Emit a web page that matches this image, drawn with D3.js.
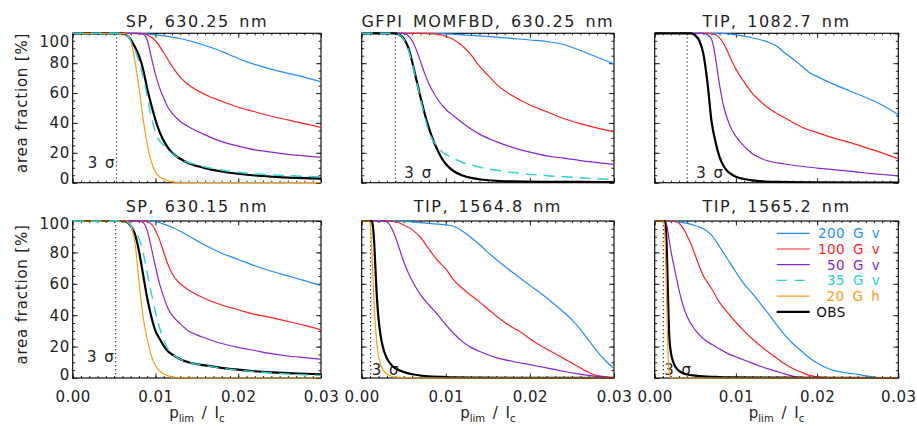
<!DOCTYPE html>
<html>
<head>
<meta charset="utf-8">
<script src="https://cdn.jsdelivr.net/npm/d3@7"></script>
<style>
  body { margin: 0; background: #fff; }
  svg text { font-family: "DejaVu Sans", sans-serif; fill: #222; }
</style>
</head>
<body>
<div id="chart"></div>
<script>
// x values are p_lim / I_c in units of 1e-3, y values are area fraction in %
const titles = ["SP, 630.25 nm", "GFPI MOMFBD, 630.25 nm", "TIP, 1082.7 nm",
                "SP, 630.15 nm", "TIP, 1564.8 nm", "TIP, 1565.2 nm"];
const sigmaLimits = [5.3, 4.0, 4.0, 5.2, 1.07, 1.06];
const xTicks = [0, 0.01, 0.02, 0.03];
const xTickLabels = ["0.00", "0.01", "0.02", "0.03"];
const yTicks = [0, 20, 40, 60, 80, 100];
const seriesNames = ["200 G v", "100 G v", "50 G v", "35 G v", "20 G h", "OBS"];

// SP 630.25 nm
const sp63025_200 = [[0,100],[7,100],[10,99],[13,96.5],[15,93.5],[17,90],[19,85.5],[21,81],[23,77.5],[25,74.5],[27,72],[30,67.5]];
const sp63025_100 = [[0,100],[8,100],[9,99],[10,95],[11,87],[12,78],[13,70.5],[14,65.5],[16,59],[18,54.5],[20,50.5],[22,47.5],[24,44.5],[26,42],[28,39.5],[30,37]];
const sp63025_50  = [[0,100],[7.5,100],[8.5,99.5],[9,95.5],[9.5,84],[10,72.5],[10.5,63.5],[11,56.5],[11.5,50.5],[12,46.5],[13,41],[14,37.5],[16,32],[18,27.5],[20,24.5],[22,22],[24,20.5],[26,19],[28,18],[30,17]];
const sp63025_35  = [[0,100],[6,100],[6.5,99],[7,95],[7.5,89],[8,81],[8.5,71],[9,58],[9.5,44],[10,34],[10.5,28],[11,25],[11.5,22],[12,19.5],[13,16],[14,13.5],[15,12],[16,10.5],[18,8.5],[20,7],[22,6],[24,5.2],[26,4.7],[28,4.3],[30,4]];
const sp63025_20  = [[0,100],[6,100],[6.5,99.5],[7,95],[7.5,82],[8,64],[8.5,43],[9,26],[9.5,14],[10,7],[10.5,4],[11,2.5],[11.5,1.3],[12,0.5],[13,0],[30,0]];
const sp63025_obs = [[0,100],[6,100],[6.5,99],[7,96],[7.5,91],[8,85],[8.5,76],[9,63],[9.5,52],[10,42],[10.5,34],[11,28],[11.5,23.5],[12,20],[13,16],[14,13],[15,11.2],[16,9.8],[18,7.5],[20,6],[22,4.8],[24,4],[26,3.4],[28,3],[30,2.7]];

// GFPI MOMFBD 630.25 nm
const gfpi_200 = [[0,100],[8,100],[12,99],[16,97.5],[20,95.5],[22,94.5],[24,92.5],[26,88.5],[28,84],[30,79.5]];
const gfpi_100 = [[0,100],[7,100],[9,99.5],[10,98],[11,95.5],[12,91.5],[13,85.5],[14,78],[15,72],[16,66],[17,61.5],[18,58],[20,52],[22,47.5],[24,43],[26,39.5],[28,36.5],[30,34]];
const gfpi_50  = [[0,100],[5,100],[5.5,98.5],[6,95],[6.5,89],[7,81],[7.5,73],[8,66],[9,56],[10,49],[11,44.5],[12,40],[13,36],[14,32.5],[16,27.5],[18,23.5],[20,20.5],[22,18],[24,16.5],[26,14.8],[28,13.5],[30,12.3]];
const gfpi_35  = [[0,100],[4,100],[4.5,99],[5,96],[5.5,90],[6,80],[6.5,68],[7,56],[7.5,44],[8,34],[8.5,28],[9,24.5],[9.5,21],[10,19],[11,16],[12,13.5],[13,12],[14,10.5],[16,8.3],[18,6.8],[20,5.6],[22,4.7],[24,4],[26,3.3],[28,2.7],[30,2.2]];
const gfpi_obs = [[0,100],[4,100],[4.5,99],[5,96.5],[5.5,91],[6,81],[6.5,69],[7,57],[7.5,46],[8,36.5],[8.5,28.5],[9,22],[9.5,16.5],[10,12.5],[11,7.5],[12,4.8],[13,3.2],[14,2.3],[16,1.3],[18,0.9],[22,0.6],[26,0.5],[30,0.4]];

// TIP 1082.7 nm
const tip10827_200 = [[0,100],[8,100],[10,99],[12,97],[14,94],[15,91.5],[16,87],[17,83],[18,78.5],[19,74],[20,71],[22,66],[24,61.5],[26,57],[28,52],[30,45.5]];
const tip10827_100 = [[0,100],[6.5,100],[7.5,99],[8,97],[8.5,93],[9,87.5],[9.5,81.5],[10,76],[11,67.5],[12,60],[13,54.5],[14,50],[16,43.5],[18,37.5],[20,33.5],[22,30],[24,27],[26,23.5],[28,20],[30,16]];
const tip10827_50  = [[0,100],[6,100],[6.5,99],[7,96],[7.25,91],[7.5,83],[8,65],[8.5,51],[9,42],[9.5,35.5],[10,31],[11,24.5],[12,19.5],[13,16.5],[14,14.5],[16,12.5],[18,11],[20,9.8],[22,8.7],[24,7.7],[26,6.5],[28,5.5],[30,4.5]];
const tip10827_obs = [[0,100],[4.5,100],[5,98.5],[5.5,95],[6,86],[6.5,67],[7,41],[7.5,27],[8,17],[8.5,11],[9,7.5],[9.5,5.5],[10,4],[11,2.5],[12,1.5],[13,1],[15,0.5],[20,0.2],[30,0]];

// SP 630.15 nm
const sp63015_200 = [[0,100],[9,100],[10,99.5],[11,98],[12,96],[13,93.5],[14,90.5],[15,87.5],[16,84.5],[18,79.5],[20,75.5],[22,71.5],[24,68],[26,65],[28,62],[30,58.8]];
const sp63015_100 = [[0,100],[8.5,100],[9.5,98],[10,94],[10.5,88],[11,80],[11.5,72.5],[12,66.5],[13,60],[14,56],[15,53],[16,50.5],[18,46.5],[20,43.5],[22,40.5],[24,38.5],[26,36],[28,33.5],[30,30.6]];
const sp63015_50  = [[0,100],[8,100],[8.5,99],[9,94],[9.5,83],[10,71],[10.5,60],[11,51.5],[11.5,44.5],[12,40],[13,34.5],[14,30],[15,27.5],[16,25.5],[18,22],[20,19.5],[22,17.5],[24,15.5],[26,14],[28,13],[30,12]];
const sp63015_35  = [[0,100],[6,100],[6.5,99.5],[7,97.5],[7.5,94],[8,89],[8.5,80],[9,67],[9.5,54],[10,42],[10.5,32],[11,24],[11.5,18.5],[12,15.5],[13,12],[14,10],[16,8],[18,6.3],[20,5],[22,4],[24,3.2],[26,2.6],[28,2],[30,1.6]];
const sp63015_20  = [[0,100],[6.5,100],[7,97],[7.5,87],[8,62],[8.5,39],[9,25],[9.5,14],[10,8],[10.5,4.5],[11,2.5],[11.5,1.5],[12,0.6],[13,0],[30,0]];
const sp63015_obs = [[0,100],[6,100],[6.5,99.5],[7,97],[7.5,92],[8,81],[8.5,66],[9,51],[9.5,39],[10,30],[10.5,25],[11,20.5],[11.5,17],[12,15],[13,12],[14,10],[16,8],[18,6.5],[20,5.3],[22,4.3],[24,3.6],[26,3.1],[28,2.7],[30,2.4]];

// TIP 1564.8 nm
const tip15648_200 = [[0,100],[4,100],[6,99.5],[8,98.5],[10,97.5],[11,96.5],[12,93.5],[13,89.5],[14,85],[15,80],[16,75.5],[18,67],[20,59],[22,51],[24,42],[25,37],[26,31],[27,24],[28,17],[29,11],[30,6]];
const tip15648_100 = [[0,100],[3,100],[4,99.5],[5,97.5],[6,94.5],[7,89.5],[8,82],[9,75],[10,69.5],[11,62],[12,57],[13,52.5],[14,48.5],[15,44],[16,39.5],[17,35.5],[18,32],[19,29],[20,25],[21,21.5],[22,18.5],[23,15.5],[24,12.5],[25,9.5],[26,6.5],[27,3.5],[28,1.6],[29,0.8],[30,0.4]];
const tip15648_50  = [[0,100],[2.5,100],[3,99.5],[3.5,96],[4,90],[4.5,82],[5,74],[5.5,67.5],[6,62],[7,53],[8,46.5],[9,40.5],[10,34],[11,28],[12,23],[13,19.5],[14,17],[15,14.8],[16,13],[18,10.5],[20,8.5],[22,6.5],[24,4.3],[26,2.5],[28,1],[30,0.2]];
const tip15648_20  = [[0,100],[0.95,100],[1.05,96],[1.15,88],[1.25,76],[1.35,62],[1.5,45],[1.65,32],[1.8,22],[2,14],[2.3,8],[2.6,4.7],[3,2.5],[3.5,1.1],[4,0.5],[5,0.1],[6,0],[30,0]];
const tip15648_obs = [[0,100],[1.2,100],[1.35,96],[1.5,85],[1.65,68],[1.8,52],[2,38],[2.25,27],[2.5,20],[3,12.5],[3.5,8.5],[4,6.2],[5,3.8],[6,2.4],[7,1.6],[8,1.1],[10,0.6],[13,0.3],[20,0.1],[30,0]];

// TIP 1565.2 nm
const tip15652_200 = [[0,100],[2,100],[3,99.5],[4,98.5],[5,97],[6,95],[7,91],[8,83.5],[9,75.5],[10,67.5],[11,60],[12,54],[13,47.5],[14,41],[15,34],[16,27.5],[17,22],[18,17.5],[19,13],[20,9.5],[21,6.8],[22,4.9],[23,3.8],[24,3],[25,2.3],[26,1.4],[27,0.6],[28,0.2],[30,0]];
const tip15652_100 = [[0,100],[2,100],[2.5,99.5],[3,98.5],[3.5,95.5],[4,90.5],[4.5,85],[5,78],[5.5,71],[6,65],[7,57],[8,48],[9,41.5],[10,35.5],[11,30],[12,25],[13,20.5],[14,16.5],[15,12.8],[16,9],[17,6],[18,3.8],[19,1.8],[20,0.8],[21,0.3],[22,0],[30,0]];
const tip15652_50  = [[0,100],[1.3,100],[1.5,97],[1.75,89],[2,81],[2.5,68],[3,56],[3.5,46],[4,39],[5,30.5],[6,25],[7,21.5],[8,18.5],[9,15.5],[10,13.5],[11,11.5],[12,9.5],[13,7.5],[14,5.8],[15,4.2],[16,2.6],[17,1.2],[18,0.4],[19,0],[30,0]];
const tip15652_20  = [[0,100],[1.1,100],[1.2,96],[1.3,85],[1.4,66],[1.5,44],[1.6,22],[1.7,9],[1.8,3],[2,0.5],[2.2,0],[30,0]];
const tip15652_obs = [[0,100],[1.25,100],[1.4,93],[1.5,80],[1.6,60],[1.7,40],[1.8,26],[2,16],[2.3,10],[2.6,6.8],[3,4.5],[3.5,3],[4,2.2],[5,1.5],[6,1],[8,0.6],[10,0.4],[15,0.2],[30,0]];

const panelSeries = [
  {"200 G v": sp63025_200, "100 G v": sp63025_100, "50 G v": sp63025_50, "35 G v": sp63025_35, "20 G h": sp63025_20, "OBS": sp63025_obs},
  {"200 G v": gfpi_200, "100 G v": gfpi_100, "50 G v": gfpi_50, "35 G v": gfpi_35, "OBS": gfpi_obs},
  {"200 G v": tip10827_200, "100 G v": tip10827_100, "50 G v": tip10827_50, "OBS": tip10827_obs},
  {"200 G v": sp63015_200, "100 G v": sp63015_100, "50 G v": sp63015_50, "35 G v": sp63015_35, "20 G h": sp63015_20, "OBS": sp63015_obs},
  {"200 G v": tip15648_200, "100 G v": tip15648_100, "50 G v": tip15648_50, "20 G h": tip15648_20, "OBS": tip15648_obs},
  {"200 G v": tip15652_200, "100 G v": tip15652_100, "50 G v": tip15652_50, "20 G h": tip15652_20, "OBS": tip15652_obs}
];

// Styles
const lineStyle = {
  "200 G v": {color: "#1e8eff", width: 1.2},
  "100 G v": {color: "#ff2222", width: 1.2},
  "50 G v":  {color: "#8a22d6", width: 1.2},
  "35 G v":  {color: "#2ad2d2", width: 1.4, dash: "11,7"},
  "20 G h":  {color: "#ff9a10", width: 1.2},
  "OBS":     {color: "#000000", width: 2.2}
};
const drawOrder = ["200 G v", "100 G v", "50 G v", "OBS", "20 G h", "35 G v"];

// Layout of the 3x2 panel grid
const colX = [[72.7, 321], [361.7, 614], [654.7, 898.3]];
const rowY = [[33.3, 182.7], [221, 378]];
const titleBaseline = [26.5, 211.5];
const yLabelNudge = [{100: 8.5, 0: -4.4}, {100: 2.3, 0: -3.7}];

const svg = d3.select("#chart").append("svg")
    .attr("width", 917)
    .attr("height", 426);

panelSeries.forEach((series, i) => {
    const r = Math.floor(i / 3), c = i % 3;
    const [x0, x1] = colX[c];
    const [y0, y1] = rowY[r];

    const x = d3.scaleLinear().domain([0, 0.03]).range([x0, x1]);
    const y = d3.scaleLinear().domain([0, 100]).range([y1, y0]);

    const g = svg.append("g");

    // Minor and major ticks on all four sides, pointing inward
    const minorX = d3.range(0, 0.0301, 0.001);
    const minorY = d3.range(0, 101, 5);
    g.append("g").attr("transform", `translate(0,${y1})`)
        .call(d3.axisBottom(x).tickValues(minorX).tickSize(-2).tickFormat(""));
    g.append("g").attr("transform", `translate(0,${y0})`)
        .call(d3.axisTop(x).tickValues(minorX).tickSize(-2).tickFormat(""));
    g.append("g").attr("transform", `translate(${x0},0)`)
        .call(d3.axisLeft(y).tickValues(minorY).tickSize(-2.5).tickFormat(""));
    g.append("g").attr("transform", `translate(${x1},0)`)
        .call(d3.axisRight(y).tickValues(minorY).tickSize(-2.5).tickFormat(""));

    g.append("g").attr("transform", `translate(0,${y1})`)
        .call(d3.axisBottom(x).tickValues(xTicks).tickSize(-4.5).tickPadding(13)
            .tickFormat((d, k) => r === 1 ? xTickLabels[k] : ""));
    g.append("g").attr("transform", `translate(0,${y0})`)
        .call(d3.axisTop(x).tickValues(xTicks).tickSize(-4.5).tickFormat(""));
    const leftAxis = g.append("g").attr("transform", `translate(${x0},0)`)
        .call(d3.axisLeft(y).tickValues(yTicks).tickSize(-5).tickPadding(3)
            .tickFormat(d => c === 0 ? d : ""));
    g.append("g").attr("transform", `translate(${x1},0)`)
        .call(d3.axisRight(y).tickValues(yTicks).tickSize(-5).tickFormat(""));

    g.selectAll(".domain").remove();
    g.selectAll(".tick line").attr("stroke", "#222").attr("stroke-width", 1);
    g.selectAll(".tick text")
        .attr("fill", "#222")
        .style("font-family", '"DejaVu Sans", sans-serif')
        .style("font-size", "15px")
        .style("letter-spacing", "0.5px");
    leftAxis.selectAll(".tick text")
        .attr("dy", d => (0.32 * 15 + (yLabelNudge[r][d] || 0)) + "px");

    // Frame
    g.append("rect")
        .attr("x", x0).attr("y", y0)
        .attr("width", x1 - x0).attr("height", y1 - y0)
        .attr("fill", "none")
        .attr("stroke", "#111")
        .attr("stroke-width", 1.2);

    // 3 sigma limit
    const xs = x(sigmaLimits[i] * 1e-3);
    g.append("line")
        .attr("x1", xs).attr("x2", xs)
        .attr("y1", y0).attr("y2", y1)
        .attr("stroke", "#111")
        .attr("stroke-width", 1)
        .attr("stroke-dasharray", "1.3,2.7");

    const sigmaLeft = (c === 0);
    g.append("text")
        .attr("x", sigmaLeft ? xs - 2 : xs + (r === 1 ? 1 : 9))
        .attr("y", sigmaLeft ? y1 - (r === 0 ? 14.5 : 16) : y1 - (r === 0 ? 4.5 : 3))
        .attr("text-anchor", sigmaLeft ? "end" : "start")
        .style("font-size", "15px")
        .style("word-spacing", "3px")
        .text("3 σ");

    // Curves
    const clipId = "clip" + i;
    g.append("clipPath").attr("id", clipId)
        .append("rect")
        .attr("x", x0).attr("y", y0 - 1.5)
        .attr("width", x1 - x0).attr("height", y1 - y0 + 2);

    const line = d3.line()
        .x(d => x(d[0] * 1e-3))
        .y(d => y(d[1]))
        .curve(d3.curveMonotoneX);

    drawOrder.forEach(name => {
        const data = series[name];
        if (!data) return;
        const st = lineStyle[name];
        g.append("path")
            .datum(data)
            .attr("clip-path", `url(#${clipId})`)
            .attr("fill", "none")
            .attr("stroke", st.color)
            .attr("stroke-width", st.width)
            .attr("stroke-dasharray", st.dash || null)
            .attr("d", line);
    });

    // Title
    g.append("text")
        .attr("x", (x0 + x1) / 2)
        .attr("y", titleBaseline[r])
        .attr("text-anchor", "middle")
        .style("font-size", "16px")
        .style("letter-spacing", "1.5px")
        .style("word-spacing", "3px")
        .text(titles[i]);

    // Y axis label
    if (c === 0) {
        g.append("text")
            .attr("transform", `translate(26.5,${(y0 + y1) / 2 - 5}) rotate(-90)`)
            .attr("text-anchor", "middle")
            .style("font-size", "15px")
            .style("letter-spacing", "0.8px")
            .text("area fraction [%]");
    }

    // X axis label
    if (r === 1) {
        const t = g.append("text")
            .attr("x", (x0 + x1) / 2)
            .attr("y", 418)
            .attr("text-anchor", "middle")
            .style("font-size", "15px")
            .style("word-spacing", "3px");
        t.append("tspan").text("p");
        t.append("tspan").attr("dy", 4).style("font-size", "10px").text("lim");
        t.append("tspan").attr("dy", -4).text(" / I");
        t.append("tspan").attr("dy", 4).style("font-size", "10px").text("c");
    }

    // Legend in the last panel
    if (i === 5) {
        const lg = g.append("g");
        seriesNames.forEach((name, k) => {
            const st = lineStyle[name];
            const ly = y0 + 12.3 + k * 15.7;
            lg.append("line")
                .attr("x1", x0 + 122).attr("x2", x0 + 155)
                .attr("y1", ly).attr("y2", ly)
                .attr("stroke", st.color)
                .attr("stroke-width", st.width)
                .attr("stroke-dasharray", st.dash ? "10,8" : null);
            const isObs = name === "OBS";
            lg.append("text")
                .attr("x", isObs ? x0 + 161.5 : x0 + 225.5)
                .attr("y", ly + 5)
                .attr("text-anchor", isObs ? "start" : "end")
                .style("fill", isObs ? "#111" : st.color)
                .style("font-size", "13.5px")
                .style("letter-spacing", "0.5px")
                .style("word-spacing", "3px")
                .text(name);
        });
    }
});
</script>
</body>
</html>
